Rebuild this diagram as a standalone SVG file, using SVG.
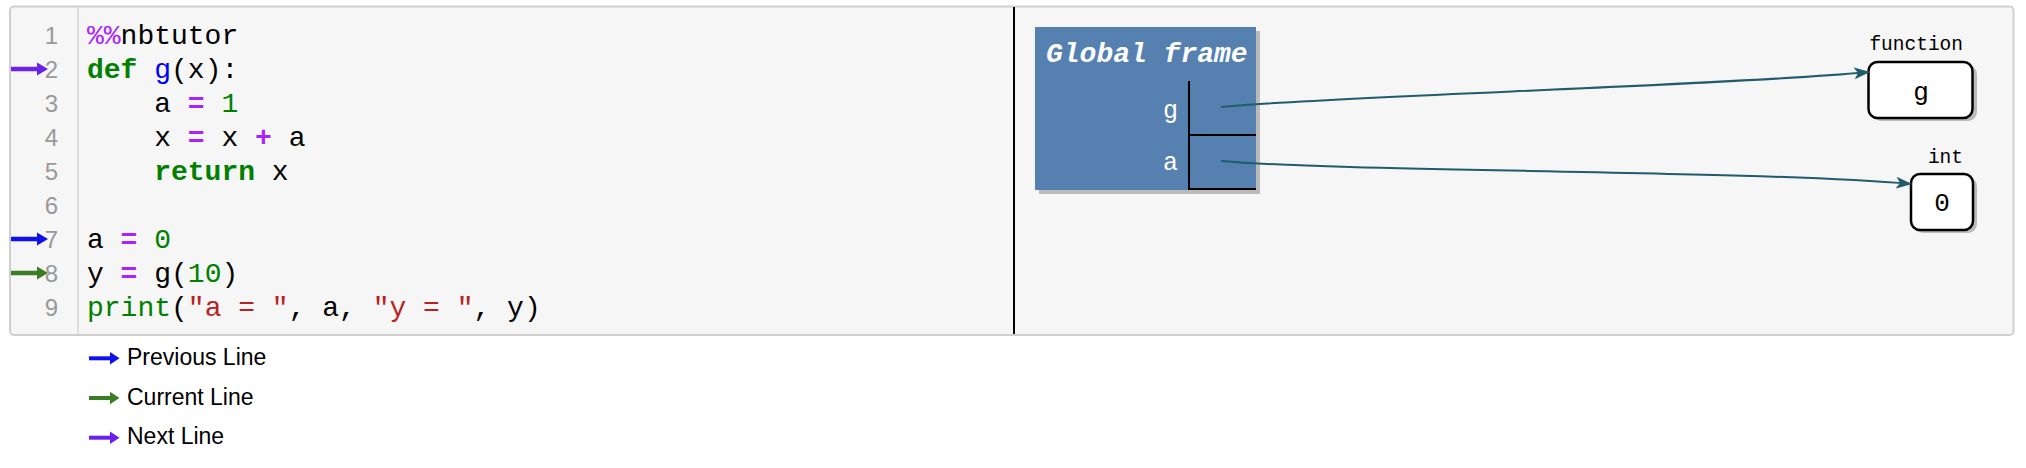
<svg xmlns="http://www.w3.org/2000/svg" width="2026" height="468" viewBox="0 0 2026 468">
<style>
.code{font-family:"Liberation Mono","DejaVu Sans Mono",monospace;font-size:28px;fill:#000;white-space:pre}
.ln{font-family:"Liberation Sans",Arial,sans-serif;font-size:24px;fill:#999;text-anchor:end}
.kw{fill:#008000;font-weight:bold}
.bi{fill:#008000}
.op{fill:#aa22ff;font-weight:bold}
.num{fill:#008000}
.str{fill:#ba2121}
.def{fill:#0000ff}
.meta{fill:#aa22ff}
.leg{font-family:"Liberation Sans",Arial,sans-serif;font-size:23px;fill:#000}
.var{font-family:"Liberation Mono",monospace;font-size:25px;fill:#fff;text-anchor:end}
.typ{font-family:"Liberation Mono",monospace;font-size:19.5px;fill:#000;text-anchor:end}
.val{font-family:"Liberation Mono",monospace;font-size:26px;fill:#000;text-anchor:middle}
.conn{fill:none;stroke:#215c6d;stroke-width:2}
.box{fill:#fff;stroke:#000;stroke-width:2.5}
.shadow{fill:#bbb}
</style>
<defs>
<marker id="ah" viewBox="0 0 16 12" refX="15" refY="6" markerWidth="16" markerHeight="12" markerUnits="userSpaceOnUse" orient="auto">
<path d="M0,0 L16,6 L0,12 L4,6 z" fill="#215c6d"/>
</marker>
</defs>
<rect width="2026" height="468" fill="#fff"/>
<g id="code-panel">
<rect x="10" y="6.5" width="2003.5" height="328.5" rx="4" fill="#f6f6f6" stroke="#cfcfcf" stroke-width="2"/>
<line x1="78" y1="7" x2="78" y2="334" stroke="#ddd" stroke-width="2"/>
<line x1="1014" y1="7" x2="1014" y2="334" stroke="#000" stroke-width="2"/>
<g class="ln">
<text x="58" y="44">1</text>
<text x="58" y="78">2</text>
<text x="58" y="112">3</text>
<text x="58" y="146">4</text>
<text x="58" y="180">5</text>
<text x="58" y="214">6</text>
<text x="58" y="248">7</text>
<text x="58" y="282">8</text>
<text x="58" y="316">9</text>
</g>
<g class="code">
<text x="87" y="44"><tspan class="meta">%%</tspan>nbtutor</text>
<text x="87" y="78"><tspan class="kw">def</tspan> <tspan class="def">g</tspan>(x):</text>
<text x="154.2" y="112">a <tspan class="op">=</tspan> <tspan class="num">1</tspan></text>
<text x="154.2" y="146">x <tspan class="op">=</tspan> x <tspan class="op">+</tspan> a</text>
<text x="154.2" y="180"><tspan class="kw">return</tspan> x</text>
<text x="87" y="248">a <tspan class="op">=</tspan> <tspan class="num">0</tspan></text>
<text x="87" y="282">y <tspan class="op">=</tspan> g(<tspan class="num">10</tspan>)</text>
<text x="87" y="316"><tspan class="bi">print</tspan>(<tspan class="str">"a = "</tspan>, a, <tspan class="str">"y = "</tspan>, y)</text>
</g>
<g id="line-arrows">
<line x1="11" y1="69" x2="39" y2="69" stroke="#6a22ea" stroke-width="4.5"/>
<polygon points="37,62.5 48,69 37,75.5" fill="#6a22ea"/>
<line x1="11" y1="239" x2="39" y2="239" stroke="#1010ee" stroke-width="4.5"/>
<polygon points="37,232.5 48,239 37,245.5" fill="#1010ee"/>
<line x1="11" y1="273" x2="39" y2="273" stroke="#3a7d23" stroke-width="4.5"/>
<polygon points="37,266.5 48,273 37,279.5" fill="#3a7d23"/>
</g>
</g>
<g id="legend">
<line x1="89" y1="358.3" x2="112" y2="358.3" stroke="#1010ee" stroke-width="4"/>
<polygon points="110,352 119.5,358.3 110,364.6" fill="#1010ee"/>
<text class="leg" x="127" y="365">Previous Line</text>
<line x1="89" y1="398" x2="112" y2="398" stroke="#3a7d23" stroke-width="4"/>
<polygon points="110,391.7 119.5,398 110,404.3" fill="#3a7d23"/>
<text class="leg" x="127" y="404.5">Current Line</text>
<line x1="89" y1="437.7" x2="112" y2="437.7" stroke="#6a22ea" stroke-width="4"/>
<polygon points="110,431.4 119.5,437.7 110,444" fill="#6a22ea"/>
<text class="leg" x="127" y="444">Next Line</text>
</g>
<g id="global-frame">
<rect x="1039" y="31" width="221" height="163" class="shadow"/>
<rect x="1035" y="27" width="221" height="163" fill="#5580b0"/>
<text x="1046" y="62" font-family="Liberation Mono,monospace" font-size="28" font-weight="bold" font-style="italic" fill="#fff">Global frame</text>
<line x1="1189" y1="81" x2="1189" y2="190" stroke="#000" stroke-width="2"/>
<line x1="1189" y1="135" x2="1256" y2="135" stroke="#000" stroke-width="2"/>
<line x1="1189" y1="189" x2="1256" y2="189" stroke="#000" stroke-width="2"/>
<text class="var" x="1178" y="118">g</text>
<text class="var" x="1178" y="170">a</text>
</g>
<g id="obj-function">
<text class="typ" x="1963" y="50">function</text>
<rect x="1872" y="65" width="105" height="56" rx="9" class="shadow"/>
<rect x="1868.5" y="62" width="104" height="56" rx="9" class="box"/>
<text class="val" x="1921" y="100">g</text>
</g>
<g id="obj-int">
<text class="typ" x="1963" y="163">int</text>
<rect x="1914" y="177" width="63" height="56" rx="9" class="shadow"/>
<rect x="1911" y="174" width="62" height="56" rx="9" class="box"/>
<text class="val" x="1942" y="211">0</text>
</g>
<g id="connectors">
<path class="conn" d="M1221,107 C1330,96 1720,86 1869,72" marker-end="url(#ah)"/>
<path class="conn" d="M1221,161 C1350,172 1750,170 1911,184" marker-end="url(#ah)"/>
</g>
</svg>
